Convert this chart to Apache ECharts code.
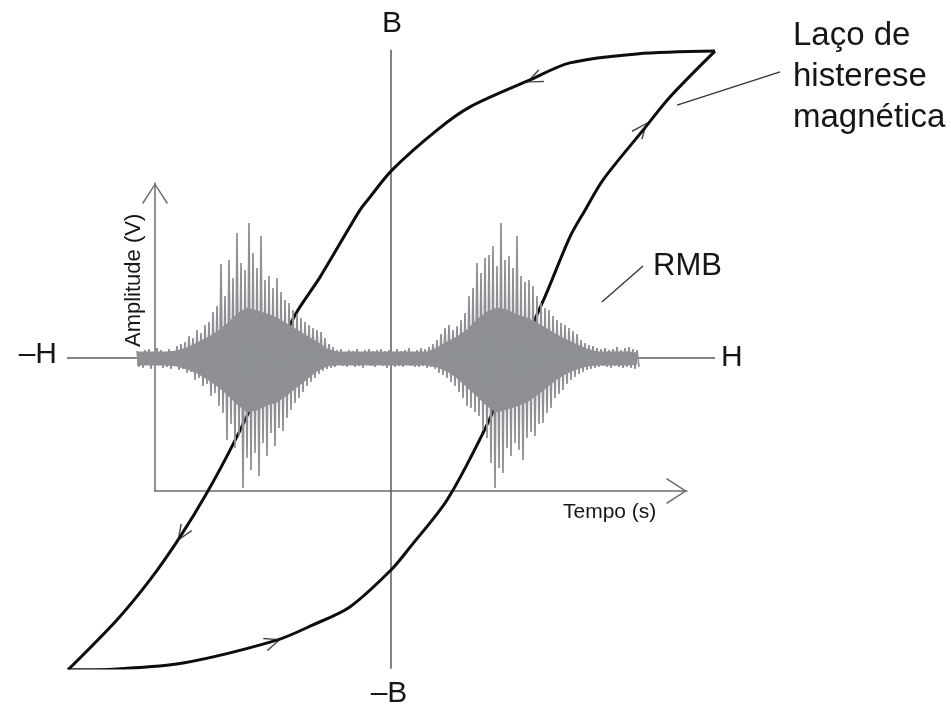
<!DOCTYPE html>
<html>
<head>
<meta charset="utf-8">
<script src="https://cdn.jsdelivr.net/npm/echarts@6/dist/echarts.min.js"></script>
<style>
html, body { margin: 0; background: #fff; }
#chart { width: 951px; height: 711px; }
</style>
</head>
<body>
<div id="chart"></div>
<script>
// hysteresis loop, H and B normalised so the loop tips sit near +-1
var upperH = [1.000, 0.759, 0.552, 0.429, 0.244, 0.142, 0.003, -0.065, -0.096, -0.219, -0.296, -0.389, -0.481, -0.568, -0.651, -0.744, -0.846, -0.997];
var upperB = [0.990, 0.981, 0.952, 0.897, 0.810, 0.735, 0.606, 0.519, 0.477, 0.261, 0.139, -0.065, -0.265, -0.435, -0.577, -0.716, -0.845, -1.006];
var lowerH = [-0.997, -0.846, -0.642, -0.352, -0.241, -0.127, 0.000, 0.059, 0.173, 0.284, 0.380, 0.475, 0.552, 0.599, 0.654, 0.778, 0.861, 1.000];
var lowerB = [-1.006, -1.003, -0.984, -0.910, -0.861, -0.803, -0.684, -0.610, -0.458, -0.242, -0.023, 0.197, 0.390, 0.477, 0.574, 0.735, 0.842, 0.990];

// direction arrows on the loop
var arrowH = [0.441, 0.775, -0.645, -0.364];
var arrowB = [0.900, 0.739, -0.568, -0.916];
var arrowAngle = [114, -39, 147, -71.5];

// H and B axis extents
var hAxisEnds = [-1.0, 1.0];
var bAxisEnds = [0.994, -1.006];

// leader lines for the two callouts [H0, B0, H1, B1]
var loopLeader = [0.883, 0.816, 1.201, 0.923];
var rmbLeader = [0.651, 0.181, 0.778, 0.297];

// RMB signal (amplitude, one sample per time step)
var rmbStart = -9;
var rmbStep = 1;
var rmb = [
  7,-9,5,-10,8,-6,9,-11,6,-8,10,-7,8,-10,6,-9,9,-11,7,-8,
  12,-12,14,-11,16,-15,22,-14,20,-22,28,-20,25,-28,33,-26,36,-38,46,-35,
  52,-48,94,-55,62,-82,98,-66,80,-90,125,-78,95,-130,88,-100,135,-112,105,-95,
  90,-118,122,-85,78,-98,82,-75,70,-88,80,-70,66,-73,58,-60,55,-52,48,-45,
  44,-40,40,-34,36,-28,33,-24,30,-20,28,-16,26,-13,20,-11,14,-10,11,-9,
  8,-7,9,-8,6,-9,8,-6,7,-9,9,-8,6,-10,8,-7,9,-8,7,-9,
  8,-6,9,-8,7,-10,8,-7,6,-9,9,-8,7,-9,8,-7,10,-8,6,-9,
  8,-9,10,-8,9,-10,11,-9,14,-11,18,-15,24,-17,30,-20,33,-24,28,-28,
  32,-34,38,-40,45,-48,62,-50,70,-54,95,-58,85,-72,100,-80,103,-105,112,-130,
  92,-110,135,-115,98,-90,102,-98,90,-85,122,-92,82,-102,76,-80,78,-74,72,-78,
  62,-66,55,-65,50,-55,48,-50,42,-40,38,-36,35,-32,33,-26,30,-22,27,-19,
  24,-16,18,-14,15,-12,13,-11,12,-10,10,-9,9,-8,10,-9,8,-10,9,-8,
  11,-9,8,-10,10,-9,11,-10,9,-11,8,-9
];

// dense core of the signal (upper and lower edge, every 5 time steps)
var coreStep = 5;
var coreTop = [
  6,6,6,6,7,10,15,20,26,34,44,50,47,44,40,34,28,22,16,9,
  6,6,6,6,6,6,6,6,6,6,10,16,21,28,38,46,50,48,43,40,
  35,29,23,18,13,9,6,6,6,6,5
];
var coreBottom = [
  -7,-7,-7,-7,-8,-11,-15,-21,-28,-36,-46,-54,-52,-47,-44,-37,-29,-21,-13,-8,
  -7,-7,-7,-7,-7,-7,-7,-7,-7,-7,-9,-13,-20,-29,-38,-48,-54,-51,-48,-44,
  -37,-29,-21,-15,-11,-8,-7,-7,-7,-7,-6
];

var FONT = 'Liberation Sans';
var GREY = '#8e9094';
var axisArrow = 'path://M13,0 L26,20 L24.7,21 L13,2.6 L1.3,21 L0,20 Z';
var loopArrow = 'path://M7,0 L14,16 L12.6,16.7 L7,3.2 L1.4,16.7 L0,16 Z';
var pxPerH = 324;

function pairs(xs, ys) {
    return xs.map(function (x, i) { return [x, ys[i]]; });
}
function series(values, start, step) {
    return values.map(function (v, i) { return [start + i * step, v]; });
}

var chart = echarts.init(document.getElementById('chart'));

var arrowData = arrowH.map(function (h, i) {
    return { value: [h, arrowB[i]], symbolRotate: arrowAngle[i] };
});

function txt(text, x, y, size, align, extra) {
    var el = {
        type: 'text', x: x, y: y,
        style: {
            text: text, fontSize: size, fontFamily: FONT, fill: '#161616',
            align: align, verticalAlign: 'middle'
        }
    };
    if (extra) {
        for (var k in extra) el[k] = extra[k];
    }
    return el;
}

var hidden = { show: false };

function coreSeries(values) {
    return {
        type: 'line', xAxisIndex: 2, yAxisIndex: 2, z: 3, showSymbol: false,
        data: series(values, rmbStart, coreStep),
        lineStyle: { color: GREY, width: 1 },
        areaStyle: { color: GREY, opacity: 1, origin: 0 }
    };
}

var option = {
    animation: false,
    backgroundColor: '#fff',
    grid: [
        // H-B plane, reaching to the right edge so the callouts fit
        { left: 67, right: 0, top: 48, bottom: 43 },
        // Amplitude / Tempo axes
        { left: 155, right: 264, top: 183, bottom: 220 },
        // signal plane, same scales, starting where the record starts
        { left: 137, right: 264, top: 183, bottom: 220 }
    ],
    xAxis: [
        { gridIndex: 0, type: 'value', min: -1, max: (951 - 67) / pxPerH - 1, show: false },
        {
            gridIndex: 1, type: 'value', min: 0, max: 266,
            axisLine: {
                onZero: false,
                symbol: ['none', axisArrow], symbolSize: [26, 21], symbolOffset: [0, -10.5],
                lineStyle: { color: '#6e6e6e', width: 1.5 }
            },
            axisTick: hidden, axisLabel: hidden, splitLine: hidden
        },
        { gridIndex: 2, type: 'value', min: rmbStart, max: 266, show: false }
    ],
    yAxis: [
        { gridIndex: 0, type: 'value', min: -1, max: 1, show: false },
        {
            gridIndex: 1, type: 'value', min: -133, max: 175,
            axisLine: {
                show: true, onZero: false,
                symbol: ['none', axisArrow], symbolSize: [26, 21], symbolOffset: [0, -10.5],
                lineStyle: { color: '#6e6e6e', width: 1.5 }
            },
            axisTick: hidden, axisLabel: hidden, splitLine: hidden
        },
        { gridIndex: 2, type: 'value', min: -133, max: 175, show: false }
    ],
    series: [
        {
            type: 'line', xAxisIndex: 0, yAxisIndex: 0, z: 1, showSymbol: false,
            data: [[hAxisEnds[0], 0], [hAxisEnds[1], 0]],
            lineStyle: { color: '#5a5a5a', width: 1.5 }
        },
        {
            type: 'line', xAxisIndex: 0, yAxisIndex: 0, z: 1, showSymbol: false,
            data: [[0, bAxisEnds[0]], [0, bAxisEnds[1]]],
            lineStyle: { color: '#5a5a5a', width: 1.5 }
        },
        {
            type: 'line', xAxisIndex: 0, yAxisIndex: 0, z: 2, showSymbol: false,
            smooth: 0.3, data: pairs(upperH, upperB),
            lineStyle: { color: '#0d0d0d', width: 3 }
        },
        {
            type: 'line', xAxisIndex: 0, yAxisIndex: 0, z: 2, showSymbol: false,
            smooth: 0.3, data: pairs(lowerH, lowerB),
            lineStyle: { color: '#0d0d0d', width: 3 }
        },
        {
            type: 'scatter', xAxisIndex: 0, yAxisIndex: 0, z: 2,
            symbol: loopArrow, symbolSize: [14, 17],
            itemStyle: { color: '#1a1a1a' },
            data: arrowData
        },
        {
            type: 'line', xAxisIndex: 0, yAxisIndex: 0, z: 2, showSymbol: false,
            data: [[loopLeader[0], loopLeader[1]], [loopLeader[2], loopLeader[3]]],
            lineStyle: { color: '#333', width: 1.3 }
        },
        {
            type: 'line', xAxisIndex: 0, yAxisIndex: 0, z: 2, showSymbol: false,
            data: [[rmbLeader[0], rmbLeader[1]], [rmbLeader[2], rmbLeader[3]]],
            lineStyle: { color: '#333', width: 1.3 }
        },
        coreSeries(coreTop),
        coreSeries(coreBottom),
        {
            type: 'line', xAxisIndex: 2, yAxisIndex: 2, z: 3, showSymbol: false,
            data: series(rmb, rmbStart, rmbStep),
            lineStyle: { color: GREY, width: 1.7 }
        }
    ],
    graphic: [
        txt('B', 392, 24, 30, 'center'),
        txt('\u2013B', 389, 694, 30, 'center'),
        txt('\u2013H', 57, 355, 30, 'right'),
        txt('H', 721, 358, 30, 'left'),
        txt('RMB', 653, 266, 31, 'left'),
        txt('La\u00e7o de\nhisterese\nmagn\u00e9tica', 793, 77, 33, 'left'),
        txt('Tempo (s)', 563, 512, 21, 'left'),
        txt('Amplitude (V)', 134, 347, 22, 'left', { rotation: Math.PI / 2 })
    ]
};
option.graphic[5].style.lineHeight = 41;

chart.setOption(option);
</script>
</body>
</html>
